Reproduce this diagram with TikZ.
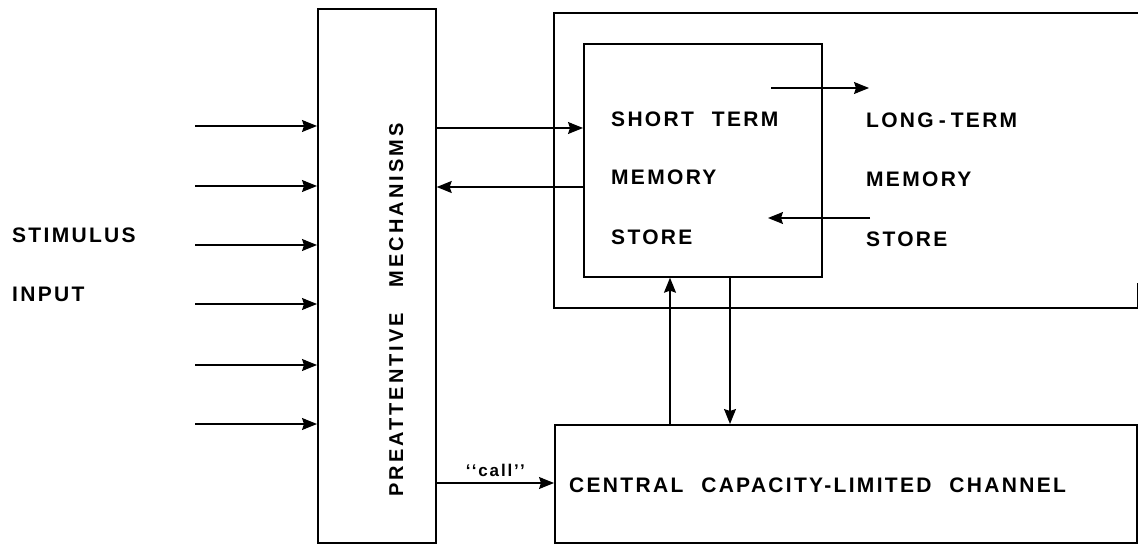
\documentclass[tikz,border=0pt]{standalone}
\usepackage{fontspec}
\setmainfont{Liberation Sans}
\newfontfamily\lblfont{Liberation Sans}[LetterSpace=11,WordSpace=2.2]
\newfontfamily\prefont{Liberation Sans}[LetterSpace=15,WordSpace=3]
\usetikzlibrary{arrows.meta}
\begin{document}
\begin{tikzpicture}[x=1pt,y=-1pt,
  box/.style={draw,line width=1.7pt,inner sep=0pt,anchor=north west},
  conn/.style={line width=1.2pt},
  arr/.style={conn,-{Stealth[length=15pt,width=12pt,inset=2pt]}},
  lbl/.style={anchor=base west,inner sep=0pt,font=\lblfont\bfseries\fontsize{21}{24}\selectfont}]
\useasboundingbox (0,0) rectangle (1138,545);
% boxes
\node[box,minimum width=118,minimum height=534] (pre) at (317,8) {};
\node[box,draw=none,minimum width=582,minimum height=293] (ltm) at (554,13) {};
\draw[line width=1.7pt] (ltm.north east) -- (ltm.north west) -- (ltm.south west) -- (ltm.south east) -- ++(0,-25);
\node[box,minimum width=238,minimum height=233] (stm) at (583,43) {};
\node[box,minimum width=582,minimum height=118] (ccc) at (554,424) {};
% texts
\node[lbl] (t1) at (12,243) {STIMULUS};
\node[lbl] (t2) at (12,302) {INPUT};
\node[anchor=base,rotate=90,inner sep=0pt,font=\prefont\bfseries\fontsize{20}{24}\selectfont] (pm) at (403,310) {PREATTENTIVE MECHANISMS};
\node[lbl] (s1) at (611,127) {SHORT TERM};
\node[lbl] (s2) at (611,185) {MEMORY};
\node[lbl] (s3) at (611,245) {STORE};
\node[lbl] (l1) at (866,128) {LONG\kern5pt-\kern5pt TERM};
\node[lbl] (l2) at (866,187) {MEMORY};
\node[lbl] (l3) at (866,247) {STORE};
\node[lbl] (cc) at (569,492) {CENTRAL CAPACITY-LIMITED CHANNEL};
% stimulus input arrows
\foreach \y [count=\i] in {126,186,245,304,365,424}{
  \coordinate (in\i) at (195,\y);
  \draw[arr] (in\i) -- (in\i -| pre.west);
}
% preattentive <-> STM
\coordinate (h1) at (0,128);
\coordinate (h2) at (0,187);
\draw[arr] (pre.east |- h1) -- (stm.west |- h1);
\draw[arr] (stm.west |- h2) -- (pre.east |- h2);
% call
\coordinate (h3) at (0,483);
\draw[arr] (pre.east |- h3) -- node[above=2pt,font=\lblfont\bfseries\fontsize{17}{19}\selectfont] (call) {‘‘call’’} (ccc.west |- h3);
% STM <-> LTM arrows
\coordinate (a1) at (771,88);
\coordinate (a2) at (869,88);
\draw[arr] (a1) -- (a2);
\coordinate (b1) at (870,218);
\coordinate (b2) at (768,218);
\draw[arr] (b1) -- (b2);
% STM <-> central channel
\coordinate (v1) at (670,0);
\coordinate (v2) at (730,0);
\draw[arr] (ccc.north -| v1) -- (stm.south -| v1);
\draw[arr] (stm.south -| v2) -- (ccc.north -| v2);
\end{tikzpicture}
\end{document}
